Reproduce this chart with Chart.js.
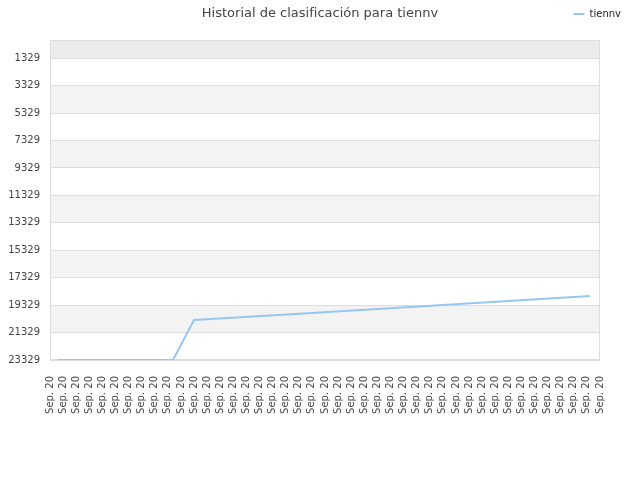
<!DOCTYPE html>
<html lang="es">
  <head>
    <meta charset="UTF-8" />
    <title>Historial de clasificación para tiennv</title>
    <style>
      html, body { margin: 0; padding: 0; background: #fff; }
      #wrap { position: relative; width: 640px; height: 480px; }
      #title {
        position: absolute; left: 0; top: 5px; width: 640px; text-align: center;
        font: 13px "DejaVu Sans", sans-serif; color: #444; margin: 0; font-weight: normal;
      }
    </style>
  </head>
  <body>
    <div id="wrap">
      <h1 id="title">Historial de clasificación para tiennv</h1>
      <canvas id="myChart" width="640" height="480"></canvas>
    </div>
  </body>
  <script src="https://cdn.jsdelivr.net/npm/chart.js"></script>
  <script>
    // 43 date ticks along the bottom, all reading "Sep. 20"
    var tickLabels = [];
    for (var i = 0; i < 43; i++) tickLabels.push("Sep. 20");

    // ranking ticks on the (reversed) y axis
    var yTicks = [1329, 3329, 5329, 7329, 9329, 11329, 13329, 15329, 17329, 19329, 21329, 23329];

    // positions along the date axis (in tick units) and ranking values
    var positions = [0.61, 9.39, 11.0, 20.0, 30.0, 41.24];
    var ranks = [23329, 23329, 20415, 19894, 19316, 18667];

    var points = positions.map(function (p, i) { return { x: p, y: ranks[i] }; });

    // alternating background bands between the y ticks
    var bands = {
      id: "bands",
      beforeDraw: function (chart) {
        var ctx = chart.ctx, a = chart.chartArea, y = chart.scales.y;
        var edges = [0].concat(yTicks);
        ctx.save();
        for (var k = 0; k < edges.length - 1; k++) {
          var t = y.getPixelForValue(edges[k]), b = y.getPixelForValue(edges[k + 1]);
          var col = k == 0 ? "#ececec" : (k % 2 == 0 ? "#f3f3f3" : "#ffffff");
          ctx.fillStyle = col;
          ctx.fillRect(a.left, t, a.right - a.left, b - t);
        }
        ctx.strokeStyle = "#dddddd";
        ctx.lineWidth = 1;
        ctx.strokeRect(a.left + 0.5, a.top + 0.5, a.right - a.left - 1, a.bottom - a.top - 1);
        ctx.restore();
      }
    };

    var config = {
      type: "line",
      data: {
        datasets: [
          {
            label: "tiennv",
            data: points,
            borderColor: "#99c5f2",
            backgroundColor: "#99c5f2",
            borderWidth: 2,
            pointRadius: 0,
            tension: 0,
            fill: false,
          },
        ],
      },
      options: {
        responsive: false,
        animation: false,
        layout: { padding: { top: 0, right: 10, bottom: 0, left: 0 } },
        plugins: {
          title: { display: false },
          tooltip: { enabled: false },
          legend: {
            position: "top",
            align: "end",
            labels: {
              usePointStyle: true,
              pointStyle: "line",
              pointStyleWidth: 11,
              padding: 9,
              color: "#222",
              font: { family: "DejaVu Sans", size: 10 },
            },
          },
        },
        scales: {
          x: {
            type: "linear",
            min: 0,
            max: 42,
            afterBuildTicks: function (s) {
              s.ticks = tickLabels.map(function (l, i) { return { value: i }; });
            },
            afterFit: function (s) { s.height = 120; },
            ticks: {
              autoSkip: false,
              minRotation: 90,
              maxRotation: 90,
              padding: 8,
              color: "#444",
              font: { family: "DejaVu Sans", size: 10 },
              callback: function (v) { return tickLabels[Math.round(v)]; },
            },
            grid: { display: false },
            border: { display: false },
          },
          xt: {
            type: "linear",
            position: "top",
            display: true,
            ticks: { display: false },
            grid: { display: false },
            border: { display: false },
            afterFit: function (s) { s.height = 11; },
          },
          y: {
            reverse: true,
            min: 0,
            max: 23329,
            afterBuildTicks: function (s) {
              s.ticks = yTicks.map(function (v) { return { value: v }; });
            },
            afterFit: function (s) { s.width = 50; },
            ticks: {
              padding: 10,
              color: "#444",
              font: { family: "DejaVu Sans", size: 10 },
              callback: function (v) { return String(v); },
            },
            grid: { color: "#dddddd", drawTicks: false },
            border: { display: false },
          },
          yr: {
            position: "right",
            display: true,
            ticks: { display: false },
            grid: { display: false },
            border: { display: false },
            afterFit: function (s) { s.width = 30; },
          },
        },
      },
      plugins: [bands],
    };

    var myChart = new Chart(document.getElementById("myChart"), config);
  </script>
</html>
